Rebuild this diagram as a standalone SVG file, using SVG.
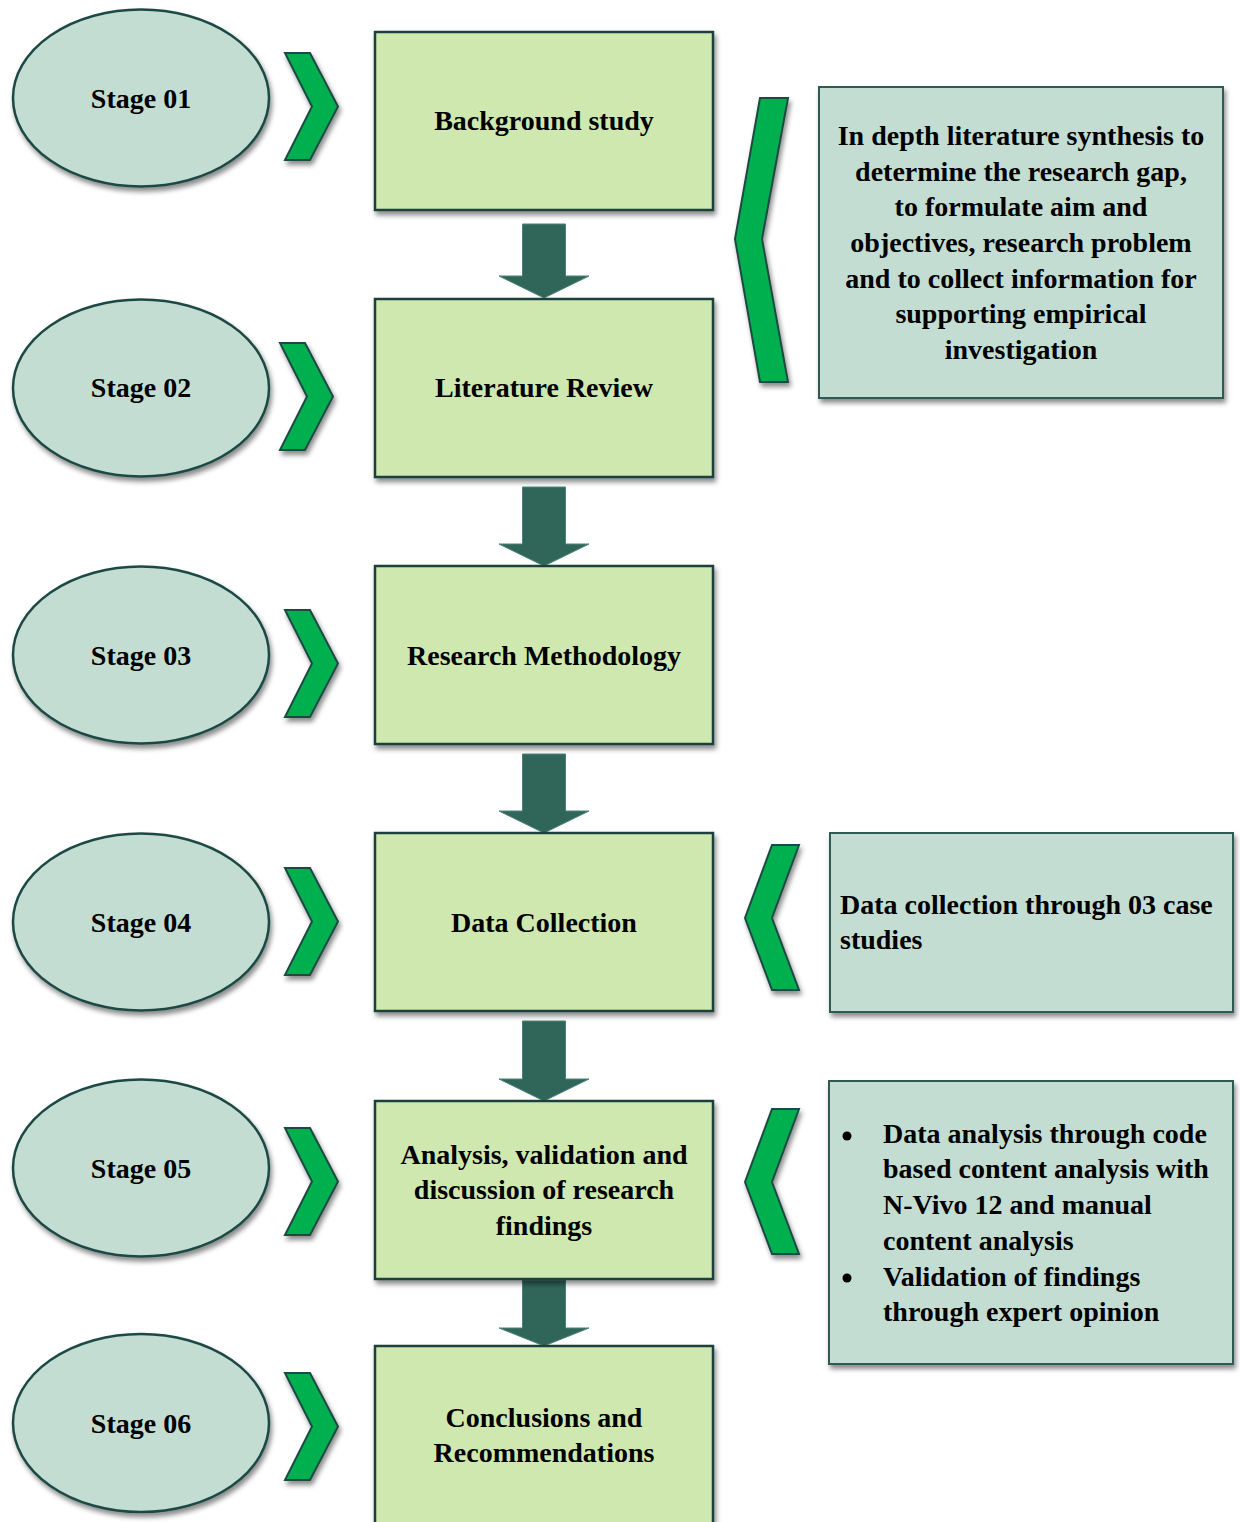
<svg xmlns="http://www.w3.org/2000/svg" width="1240" height="1522" viewBox="0 0 1240 1522">
  <defs>
    <filter id="shadow" x="-10%" y="-10%" width="125%" height="130%">
      <feDropShadow dx="2" dy="4" stdDeviation="2.5" flood-color="#000" flood-opacity="0.45"/>
    </filter>
    <!-- right-pointing chevron, 53 x 107 -->
    <polygon id="chev-r" points="0,0 25,0 53,53.5 25,107 0,107 27,53.5"/>
    <style>
      .stage { fill: #c4ddd2; stroke: #1e4a44; stroke-width: 2.5; filter: url(#shadow); }
      .step { fill: #cfe8b0; stroke: #1f3f3a; stroke-width: 2.5; filter: url(#shadow); }
      .note { fill: #c4ddd2; stroke: #2f5a52; stroke-width: 2; filter: url(#shadow); }
      .chev { fill: #00b050; stroke: #1e4a44; stroke-width: 2; filter: url(#shadow); }
      .flow { fill: #30665a; stroke: #4d8377; stroke-width: 1; }
      text { font-family: "Liberation Serif", "Times New Roman", serif; font-weight: bold; font-size: 28px; fill: #000; }
      .c { text-anchor: middle; }
    </style>
  </defs>

  <!-- connectors: downward block arrows between steps -->
  <g id="connectors">
    <polygon class="flow" points="522.5,224 565.5,224 565.5,276 589,276 544,298 499,276 522.5,276"/>
    <polygon class="flow" points="522.5,487 565.5,487 565.5,544 589,544 544,566 499,544 522.5,544"/>
    <polygon class="flow" points="522.5,754 565.5,754 565.5,811 589,811 544,833 499,811 522.5,811"/>
    <polygon class="flow" points="522.5,1021 565.5,1021 565.5,1079 589,1079 544,1101 499,1079 522.5,1079"/>
    <polygon class="flow" points="522.5,1280 565.5,1280 565.5,1328 589,1328 544,1346 499,1328 522.5,1328"/>
  </g>

  <!-- stage ellipses -->
  <g id="stage-01"><ellipse class="stage" cx="141" cy="98" rx="128" ry="88.5"/><text class="c" x="141" y="108">Stage 01</text></g>
  <g id="stage-02"><ellipse class="stage" cx="141" cy="388" rx="128" ry="88.5"/><text class="c" x="141" y="397">Stage 02</text></g>
  <g id="stage-03"><ellipse class="stage" cx="141" cy="655" rx="128" ry="88.5"/><text class="c" x="141" y="665">Stage 03</text></g>
  <g id="stage-04"><ellipse class="stage" cx="141" cy="922" rx="128" ry="88.5"/><text class="c" x="141" y="932">Stage 04</text></g>
  <g id="stage-05"><ellipse class="stage" cx="141" cy="1168" rx="128" ry="88.5"/><text class="c" x="141" y="1178">Stage 05</text></g>
  <g id="stage-06"><ellipse class="stage" cx="141" cy="1423" rx="128" ry="89"/><text class="c" x="141" y="1433">Stage 06</text></g>

  <!-- chevrons from stages to steps -->
  <g id="chevrons-left">
    <use href="#chev-r" class="chev" x="285" y="53"/>
    <use href="#chev-r" class="chev" x="280" y="343"/>
    <use href="#chev-r" class="chev" x="285" y="610"/>
    <use href="#chev-r" class="chev" x="285" y="868"/>
    <use href="#chev-r" class="chev" x="285" y="1128"/>
    <use href="#chev-r" class="chev" x="285" y="1373"/>
  </g>

  <!-- process steps -->
  <g id="step-background"><rect class="step" x="375" y="32" width="338" height="178"/><text class="c" x="544" y="130">Background study</text></g>
  <g id="step-literature"><rect class="step" x="375" y="299" width="338" height="178"/><text class="c" x="544" y="397">Literature Review</text></g>
  <g id="step-methodology"><rect class="step" x="375" y="566" width="338" height="178"/><text class="c" x="544" y="665">Research Methodology</text></g>
  <g id="step-collection"><rect class="step" x="375" y="833" width="338" height="178"/><text class="c" x="544" y="932">Data Collection</text></g>
  <g id="step-analysis"><rect class="step" x="375" y="1101" width="338" height="178"/>
    <text class="c" x="544" y="1164">Analysis, validation and</text>
    <text class="c" x="544" y="1199">discussion of research</text>
    <text class="c" x="544" y="1235">findings</text>
  </g>
  <g id="step-conclusions"><rect class="step" x="375" y="1346" width="338" height="200"/>
    <text class="c" x="544" y="1427">Conclusions and</text>
    <text class="c" x="544" y="1462">Recommendations</text>
  </g>

  <!-- chevrons from notes to steps -->
  <g id="chevrons-right">
    <polygon class="chev" points="760,98 788,98 762,239 788,382 760,382 735,239"/>
    <polygon class="chev" points="772,845 799,845 772,918 799,990 772,990 745,918"/>
    <polygon class="chev" points="772,1109 799,1109 772,1182 799,1254 772,1254 745,1182"/>
  </g>

  <!-- notes -->
  <g id="note-literature"><rect class="note" x="819" y="87" width="404" height="311"/>
    <text class="c" x="1021" y="145">In depth literature synthesis to</text>
    <text class="c" x="1021" y="181">determine the research gap,</text>
    <text class="c" x="1021" y="216">to formulate aim and</text>
    <text class="c" x="1021" y="252">objectives, research problem</text>
    <text class="c" x="1021" y="288">and to collect information for</text>
    <text class="c" x="1021" y="323">supporting empirical</text>
    <text class="c" x="1021" y="359">investigation</text>
  </g>
  <g id="note-collection"><rect class="note" x="830" y="833" width="403" height="179"/>
    <text x="840" y="914">Data collection through 03 case</text>
    <text x="840" y="949">studies</text>
  </g>
  <g id="note-analysis"><rect class="note" x="829" y="1081" width="404" height="283"/>
    <circle cx="847" cy="1136" r="4.5" fill="#000"/>
    <circle cx="847" cy="1278" r="4.5" fill="#000"/>
    <text x="883" y="1143">Data analysis through code</text>
    <text x="883" y="1178">based content analysis with</text>
    <text x="883" y="1214">N-Vivo 12 and manual</text>
    <text x="883" y="1250">content analysis</text>
    <text x="883" y="1286">Validation of findings</text>
    <text x="883" y="1321">through expert opinion</text>
  </g>
</svg>
